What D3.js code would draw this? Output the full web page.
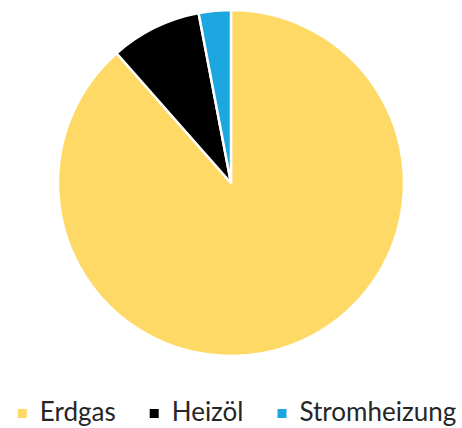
<!DOCTYPE html>
<html>
<head>
<meta charset="utf-8">
<script src="https://cdn.jsdelivr.net/npm/d3@7"></script>
<style>
  body { margin: 0; background: #fff; }
  svg { display: block; }
</style>
</head>
<body>
<svg id="chart"></svg>
<script>
// Daten
const categories = ['Erdgas', 'Heizöl', 'Stromheizung'];
const shares = [88.5, 8.5, 3];
const colors = ['#FFD966', '#000000', '#1CA7E0'];

const width = 462;
const height = 428;
const cx = 231;
const cy = 183;
const radius = 173;

const svg = d3.select('#chart').attr('width', width).attr('height', height);

const pie = d3.pie().sort(null).value(d => d.value);
const arc = d3.arc().innerRadius(0).outerRadius(radius);

const slices = pie(categories.map((c, i) => ({ name: c, value: shares[i] })));

svg.append('g')
  .attr('transform', `translate(${cx}, ${cy})`)
  .selectAll('path')
  .data(slices)
  .enter()
  .append('path')
  .attr('d', arc)
  .style('fill', (d, i) => colors[i])
  .style('stroke', '#fff')
  .style('stroke-width', 2.5)
  .style('stroke-linejoin', 'round');

// Legende
const legend = svg.append('g');
const boxSize = 9;
const textGap = 13;
const itemGap = 34;
let x = 0;

const items = legend.selectAll('.item')
  .data(categories)
  .enter()
  .append('g')
  .attr('class', 'item');

items.append('rect')
  .attr('y', -12)
  .attr('width', boxSize)
  .attr('height', boxSize)
  .style('fill', (d, i) => colors[i]);

items.append('text')
  .attr('x', boxSize + textGap)
  .style('font-family', 'Lato, "Open Sans", sans-serif')
  .style('font-size', '26px')
  .style('fill', '#262626')
  .text(d => d);

items.each(function () {
  const g = d3.select(this);
  g.attr('transform', `translate(${x}, 0)`);
  x += boxSize + textGap + g.select('text').node().getComputedTextLength() + itemGap;
});

const legendWidth = x - itemGap;
legend.attr('transform', `translate(${237 - legendWidth / 2}, 421)`);
</script>
</body>
</html>
